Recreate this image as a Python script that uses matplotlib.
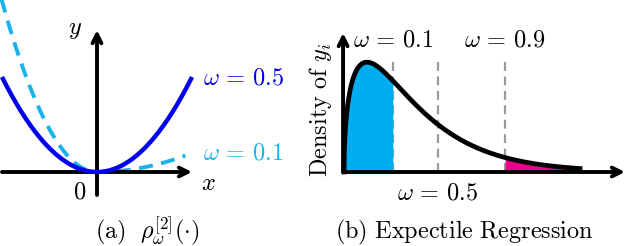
import numpy as np
import matplotlib
matplotlib.use("Agg")
import matplotlib.pyplot as plt
from math import gamma

plt.rcParams['mathtext.fontset'] = 'cm'
plt.rcParams['font.family'] = ['DejaVu Serif']

# expectile loss weights (panel a)
omegas = [0.5, 0.1]
loss_colors = ['#0000EE', '#19B2EC']
loss_labels = [r'$\omega\,=\,0.5$', r'$\omega\,=\,0.1$']

# density of y_i (panel b): gamma shape / expectile positions
shape = 1.5
x_end = 5.13
exp_pos = [1.07, 2.04, 3.50]
exp_labels = [r'$\omega\,=\,0.1$', r'$\omega\,=\,0.5$', r'$\omega\,=\,0.9$']

W, H = 628, 246
fig = plt.figure(figsize=(W / 100, H / 100), dpi=100)
fs = 17.5

def loss(x, w):
    return np.abs(w - (x < 0)) * x ** 2

def arrow(ax, x0, y0, x1, y1):
    ax.annotate('', xy=(x1, y1), xytext=(x0, y0),
                arrowprops=dict(arrowstyle='->', lw=2.8, color='k',
                                mutation_scale=16, shrinkA=0, shrinkB=0))

# ---------- (a) ----------
axa = fig.add_axes([0, 0, 300 / W, 1])
axa.set_xlim((0 - 97) / 95, (300 - 97) / 95)
axa.set_ylim((172 - 246) / 190, 172 / 190)
axa.axis('off')
arrow(axa, -1.0, 0, 1.0, 0)
arrow(axa, 0, -0.121, 0, 0.747)
xs = np.linspace(-1.0, 1.0, 400)
axa.plot(xs, loss(xs, omegas[0]), color=loss_colors[0], lw=3.2, solid_capstyle='butt', zorder=3)
xs2 = np.linspace(-1.03, 0.93, 400)
axa.plot(xs2, loss(xs2, omegas[1]), color=loss_colors[1], lw=2.8, ls=(0, (3.6, 2.2)), zorder=2)
axa.text(-0.23, 0.75, r'$y$', fontsize=fs, ha='center', va='center')
axa.text(1.17, -0.06, r'$x$', fontsize=fs, ha='center', va='center')
axa.text(-0.18, -0.105, r'$0$', fontsize=fs, ha='center', va='center')
axa.text(1.116, 0.495, loss_labels[0], fontsize=fs, color=loss_colors[0], ha='left', va='center')
axa.text(1.116, 0.10, loss_labels[1], fontsize=fs, color=loss_colors[1], ha='left', va='center')
axa.text((147 - 97) / 95, (172 - 231) / 190, r'$\mathrm{(a)}\ \ \rho^{[2]}_{\omega}(\cdot)$',
         fontsize=fs, ha='center', va='center')

# ---------- (b) ----------
axb = fig.add_axes([300 / W, 0, 328 / W, 1])
axb.set_xlim((300 - 344) / 46, (628 - 344) / 46)
axb.set_ylim((172 - 246) / 227, 172 / 227)
axb.axis('off')
xd = np.linspace(0, x_end, 600)
pdf = xd ** (shape - 1) * np.exp(-xd) / gamma(shape)
axb.fill_between(xd, 0, pdf, where=xd <= exp_pos[0], color='#00AEEF', lw=0, zorder=1)
axb.fill_between(xd, 0, pdf, where=xd >= exp_pos[2], color='#EC008C', lw=0, zorder=1)
for p in exp_pos:
    axb.plot([p, p], [0, 0.507], color='#9a9a9a', lw=1.6, ls=(0, (4, 2.5)), zorder=0.5)
axb.plot(xd, pdf, color='k', lw=3.4, zorder=3)
arrow(axb, -0.02, 0, (625 - 344) / 46, 0)
arrow(axb, -0.02, 0, -0.02, (172 - 33) / 227)
axb.text(exp_pos[0], (172 - 40) / 227, exp_labels[0], fontsize=fs, ha='center', va='center')
axb.text(exp_pos[2], (172 - 40) / 227, exp_labels[2], fontsize=fs, ha='center', va='center')
axb.text(exp_pos[1], (172 - 193) / 227, exp_labels[1], fontsize=fs, ha='center', va='center')
axb.text((320 - 344) / 46, (172 - 110) / 227, r'$\mathrm{Density\ of}\ y_i$', fontsize=fs,
         rotation=90, ha='center', va='center')
axb.text((464 - 344) / 46, (172 - 232) / 227, r'$\mathrm{(b)\ Expectile\ Regression}$',
         fontsize=fs, ha='center', va='center')

fig.savefig('out.png', dpi=100)
